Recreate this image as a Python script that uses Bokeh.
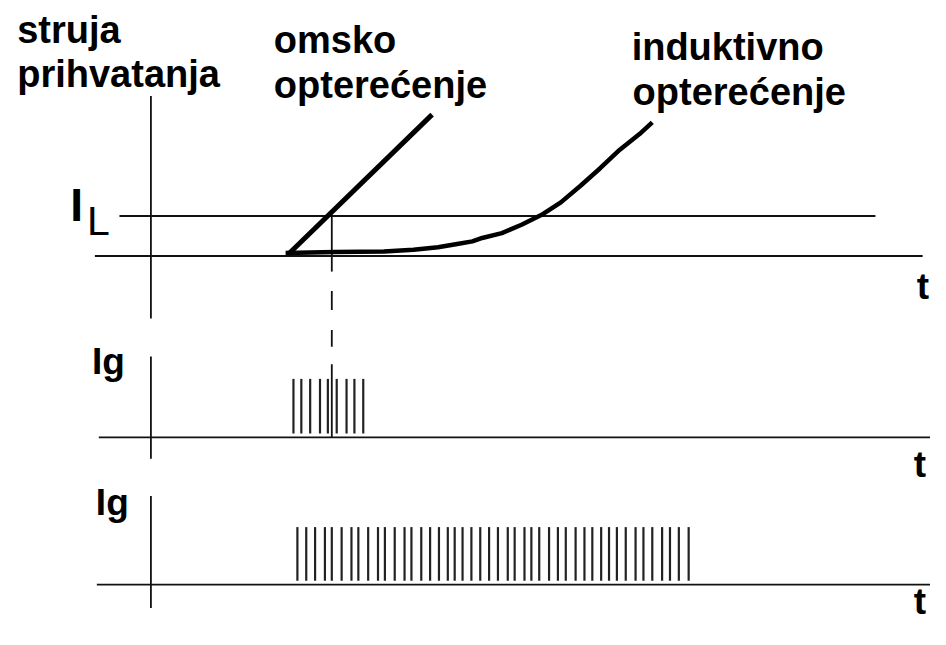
from bokeh.plotting import figure
from bokeh.models import Range1d
from bokeh.core.properties import value
from bokeh.embed import file_html
from bokeh.resources import INLINE

# ---- diagram data (reference-pixel coordinate space, y grows downward) ----
# horizontal reference lines
base_y = [262, 448, 599]          # time axes of the three traces
base_x0 = [96, 100, 98]
base_x1 = [938, 946, 946]
il_level = 221                     # I_L threshold
il_x0, il_x1 = 121, 890

# vertical (current) axes
vaxis_x = 153
vaxis_y0 = [98, 365, 508]
vaxis_y1 = [326, 470, 623]

# ohmic load: linear rise
ohm_t = [293, 439]
ohm_i = [260, 117]

# inductive load: slow rise
ind_t = [290, 340, 390, 420, 445, 463, 480, 490, 510, 530, 550, 570, 590, 610, 630, 650, 663]
ind_i = [259, 258, 257.5, 255.5, 253, 250, 247, 243.5, 238.5, 230, 220, 207, 190, 172, 153, 137, 125]

# moment when ohmic current reaches I_L
t_cross = 337

# gate pulses
pulses_ohm = [298, 306, 315, 325, 333, 342, 352, 360, 369]
pulses_ind = [302, 311, 320, 330, 337, 347, 357, 364, 374, 384, 391, 401,
              411, 418, 428, 437, 446, 455, 462, 470, 479, 488, 497, 506,
              516, 523, 533, 540, 548, 558, 567, 575, 585, 594, 602, 611,
              619, 627, 636, 646, 654, 663, 673, 681, 690, 700]
pulse_top = [388, 540]
pulse_bot = [444, 595]

# labels (anchor points)
label_text = ["struja", "prihvatanja", "omsko", "opterećenje", "induktivno", "opterećenje"]
label_x = [17, 17, 278, 278, 642, 643]
label_y = [30, 75, 41, 87, 48, 94]

ig_x = [93, 97]
ig_y = [370, 515]

t_x = [932, 929, 929]
t_y = [293, 476, 616]

FONT = value("Liberation Sans")

p = figure(width=930, height=629, output_backend="svg", toolbar_location=None,
           x_range=Range1d(0, 946), y_range=Range1d(645, 0),
           min_border=0, tools="")
p.xaxis.visible = False
p.yaxis.visible = False
p.grid.visible = False
p.outline_line_color = None
p.background_fill_color = "white"
p.border_fill_color = "white"

thin = 1.8
# time axes
p.segment(x0=base_x0, y0=base_y, x1=base_x1, y1=base_y, line_color="#111", line_width=thin)
# I_L line
p.segment(x0=[il_x0], y0=[il_level], x1=[il_x1], y1=[il_level], line_color="#111", line_width=thin)
# current axes
p.segment(x0=[vaxis_x] * 3, y0=vaxis_y0, x1=[vaxis_x] * 3, y1=vaxis_y1, line_color="#111", line_width=thin)

# crossing marker: solid, dashed, solid
p.segment(x0=[t_cross, t_cross], y0=[il_level, 373], x1=[t_cross, t_cross], y1=[278, base_y[1]],
          line_color="#111", line_width=thin)
p.segment(x0=[t_cross], y0=[298], x1=[t_cross], y1=[355], line_color="#111", line_width=thin,
          line_dash="19 20")

# curves
p.line(ohm_t, ohm_i, line_color="black", line_width=5)
p.line(ind_t, ind_i, line_color="black", line_width=4.5, line_join="round")

# pulses
p.segment(x0=pulses_ohm, y0=[pulse_bot[0]] * len(pulses_ohm), x1=pulses_ohm,
          y1=[pulse_top[0]] * len(pulses_ohm), line_color="#222", line_width=2.2)
p.segment(x0=pulses_ind, y0=[pulse_bot[1]] * len(pulses_ind), x1=pulses_ind,
          y1=[pulse_top[1]] * len(pulses_ind), line_color="#222", line_width=2.2)

# texts
p.text(x=label_x, y=label_y, text=label_text, text_font=FONT, text_font_size="38px",
       text_font_style="bold", text_baseline="alphabetic", text_align="left", text_color="black")
p.text(x=ig_x, y=ig_y, text=["Ig", "Ig"], text_font=FONT, text_font_size="37px",
       text_font_style="bold", text_baseline="alphabetic", text_align="left", text_color="black")
p.text(x=t_x, y=t_y, text=["t", "t", "t"], text_font=FONT, text_font_size="37px",
       text_font_style="bold", text_baseline="alphabetic", text_align="left", text_color="black")
p.text(x=[71], y=[210], text=["I"], text_font=FONT, text_font_size="46px",
       text_font_style="bold", text_baseline="alphabetic", text_align="left", text_color="black")
p.text(x=[88], y=[226], text=["L"], text_font=FONT, text_font_size="41px",
       text_font_style="normal", text_baseline="alphabetic", text_align="left", text_color="black")

open("out.html", "w").write(file_html(p, INLINE))
